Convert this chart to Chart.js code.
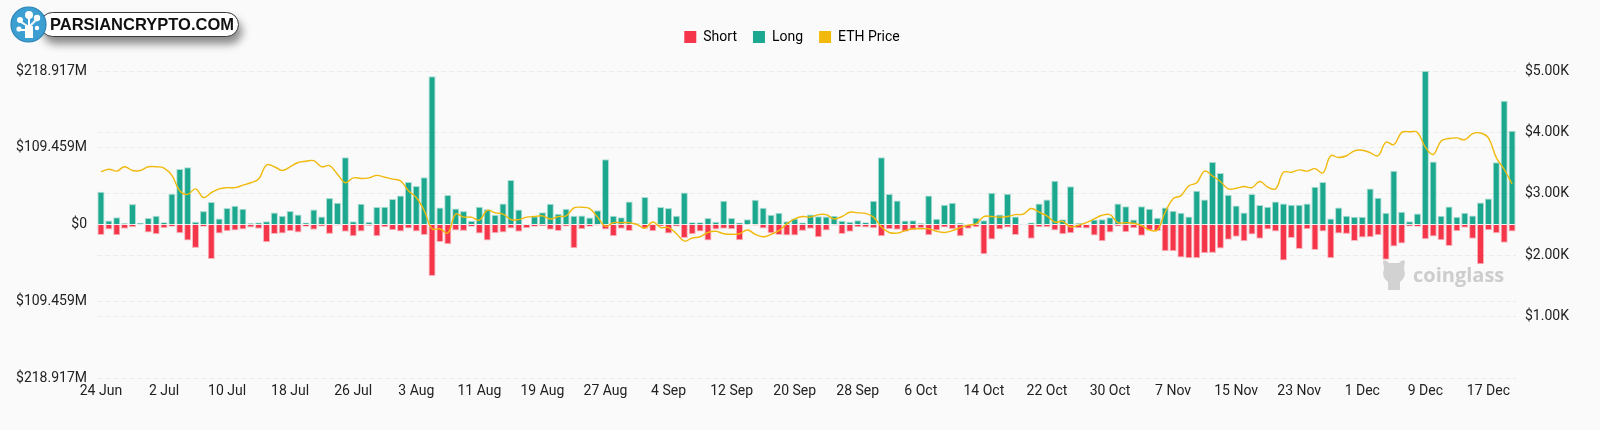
<!DOCTYPE html>
<html>
<head>
<meta charset="utf-8">
<title>ETH Liquidations</title>
<script src="https://cdn.jsdelivr.net/npm/chart.js@4.4.1/dist/chart.umd.min.js"></script>
<style>
  html, body { margin: 0; padding: 0; background: #fafafa; }
  #wrap { position: relative; width: 1600px; height: 430px; overflow: hidden; }
  #liqChart { position: absolute; left: 0; top: 0; }
  .pill {
    position: absolute; left: 40px; top: 12px; width: 199px; height: 25px;
    box-sizing: border-box; border: 1.5px solid #3a3a3a; border-radius: 13px;
    background: #fff; box-shadow: 3px 7px 8px rgba(0,0,0,0.45);
    font: bold 16.5px "Liberation Sans", Arial, sans-serif; color: #111;
    line-height: 22px; padding-left: 9px; white-space: nowrap;
  }
  .badge { position: absolute; left: 10px; top: 6px; }
  .cg { position: absolute; left: 1380px; top: 257px; display: flex; align-items: center; }
  .cg span { font: bold 20px "Open Sans", sans-serif; color: #cdcdcd; margin-left: 5px; }
</style>
</head>
<body>
<div id="wrap">
  <canvas id="liqChart" width="1600" height="430"></canvas>
  <div class="cg">
    <svg width="28" height="34" viewBox="0 0 28 34">
      <path d="M3 4 Q6 2 9 6 L19 6 Q22 2 25 4 L24 12 Q27 20 20 25 L20 33 L8 33 L8 25 Q1 20 4 12 Z" fill="#d2d2d2"/>
    </svg>
    <span>coinglass</span>
  </div>
  <div class="pill">PARSIANCRYPTO.COM</div>
  <svg class="badge" width="38" height="38" viewBox="0 0 38 38">
    <circle cx="18.5" cy="18.5" r="17.5" fill="#3c9fd2" stroke="#2b82b5" stroke-width="1.2"/>
    <rect x="15" y="20" width="8" height="12" fill="#fff"/>
    <path d="M19 21 L19 12 M19 21 L11 16 M19 21 L26 14 M17 24 L10 24" stroke="#fff" stroke-width="2" fill="none"/>
    <circle cx="19" cy="9" r="4" fill="#fff"/>
    <circle cx="10" cy="14" r="3" fill="#fff"/>
    <circle cx="27" cy="12" r="3.2" fill="#fff"/>
    <circle cx="9" cy="23" r="2.6" fill="#fff"/>
    <circle cx="27" cy="22" r="2.2" fill="#fff"/>
  </svg>
</div>
<script>
const dates = [
  '24 Jun','25 Jun','26 Jun','27 Jun','28 Jun','29 Jun','30 Jun',
  '1 Jul','2 Jul','3 Jul','4 Jul','5 Jul','6 Jul','7 Jul','8 Jul','9 Jul','10 Jul','11 Jul','12 Jul','13 Jul','14 Jul','15 Jul','16 Jul',
  '17 Jul','18 Jul','19 Jul','20 Jul','21 Jul','22 Jul','23 Jul','24 Jul','25 Jul','26 Jul','27 Jul','28 Jul','29 Jul','30 Jul','31 Jul',
  '1 Aug','2 Aug','3 Aug','4 Aug','5 Aug','6 Aug','7 Aug','8 Aug','9 Aug','10 Aug','11 Aug','12 Aug','13 Aug','14 Aug','15 Aug','16 Aug',
  '17 Aug','18 Aug','19 Aug','20 Aug','21 Aug','22 Aug','23 Aug','24 Aug','25 Aug','26 Aug','27 Aug','28 Aug','29 Aug','30 Aug','31 Aug',
  '1 Sep','2 Sep','3 Sep','4 Sep','5 Sep','6 Sep','7 Sep','8 Sep','9 Sep','10 Sep','11 Sep','12 Sep','13 Sep','14 Sep','15 Sep',
  '16 Sep','17 Sep','18 Sep','19 Sep','20 Sep','21 Sep','22 Sep','23 Sep','24 Sep','25 Sep','26 Sep','27 Sep','28 Sep','29 Sep','30 Sep',
  '1 Oct','2 Oct','3 Oct','4 Oct','5 Oct','6 Oct','7 Oct','8 Oct','9 Oct','10 Oct','11 Oct','12 Oct','13 Oct','14 Oct','15 Oct','16 Oct',
  '17 Oct','18 Oct','19 Oct','20 Oct','21 Oct','22 Oct','23 Oct','24 Oct','25 Oct','26 Oct','27 Oct','28 Oct','29 Oct','30 Oct','31 Oct',
  '1 Nov','2 Nov','3 Nov','4 Nov','5 Nov','6 Nov','7 Nov','8 Nov','9 Nov','10 Nov','11 Nov','12 Nov','13 Nov','14 Nov','15 Nov',
  '16 Nov','17 Nov','18 Nov','19 Nov','20 Nov','21 Nov','22 Nov','23 Nov','24 Nov','25 Nov','26 Nov','27 Nov','28 Nov','29 Nov','30 Nov',
  '1 Dec','2 Dec','3 Dec','4 Dec','5 Dec','6 Dec','7 Dec','8 Dec','9 Dec','10 Dec','11 Dec','12 Dec','13 Dec','14 Dec','15 Dec',
  '16 Dec','17 Dec','18 Dec','19 Dec','20 Dec'
];

// long liquidations, $M
const longLiq = [
  46.7, 5.7, 10.5, 1.9, 29.1, 2.4, 9.1, 12.4, 3.3, 43.9,
  79.2, 81.6, 3.8, 19.1, 32.0, 8.6, 23.4, 26.7, 22.4, 1.9,
  2.9, 4.8, 17.2, 12.4, 19.1, 14.3, 2.9, 21.5, 11.4, 37.7,
  31.0, 95.9, 4.8, 29.6, 3.8, 24.8, 25.3, 36.3, 41.5, 60.6,
  54.9, 67.3, 211.3, 24.3, 42.0, 22.9, 19.1, 5.2, 25.3, 21.9,
  13.8, 30.0, 63.4, 21.5, 0.5, 11.9, 17.6, 29.6, 15.3, 22.4,
  12.4, 12.9, 10.0, 20.5, 93.0, 12.4, 10.5, 32.9, 1.4, 39.1,
  0.5, 24.8, 23.4, 12.4, 45.8, 3.3, 3.3, 9.1, 3.8, 33.9,
  9.1, 2.9, 7.6, 35.3, 23.9, 13.8, 16.7, 4.8, 8.6, 2.9,
  14.3, 11.9, 11.4, 12.4, 5.2, 3.8, 6.2, 3.3, 33.9, 95.9,
  43.4, 34.3, 5.7, 6.2, 1.9, 41.5, 8.1, 28.1, 31.0, 2.4,
  0.5, 9.5, 6.2, 45.3, 14.3, 43.9, 11.4, 0.3, 2.9, 30.0,
  35.8, 62.5, 7.6, 54.4, 1.9, 1.0, 7.2, 7.6, 10.5, 30.0,
  26.2, 7.2, 26.2, 22.4, 9.5, 24.3, 19.6, 16.7, 11.4, 48.2,
  35.8, 89.2, 73.5, 42.5, 27.2, 17.2, 43.4, 27.7, 25.3, 32.9,
  30.0, 28.1, 28.1, 30.0, 53.9, 60.6, 8.6, 24.3, 12.4, 11.0,
  11.0, 51.5, 38.2, 16.7, 76.8, 18.1, 4.8, 15.7, 218.9, 89.7,
  12.4, 25.8, 11.0, 16.7, 12.9, 31.5, 37.2, 88.7, 176.5, 133.6
];

// short liquidations, $M (drawn below zero)
const shortLiq = [
  14.8, 7.2, 15.3, 6.2, 3.8, 1.0, 11.4, 13.8, 5.2, 3.3,
  12.4, 22.9, 33.4, 3.3, 49.1, 12.9, 9.5, 8.6, 7.2, 4.3,
  6.2, 25.3, 13.4, 12.9, 9.5, 11.4, 3.3, 7.6, 2.9, 13.4,
  1.4, 10.5, 16.7, 10.0, 1.9, 16.7, 3.8, 8.1, 10.0, 5.7,
  10.0, 14.8, 73.5, 24.8, 28.1, 8.6, 9.1, 3.3, 12.9, 22.9,
  12.4, 11.4, 5.7, 10.5, 5.2, 3.3, 2.4, 7.6, 9.1, 2.9,
  33.9, 6.7, 3.3, 1.4, 7.2, 16.7, 6.2, 9.1, 0.5, 6.2,
  9.5, 2.9, 12.9, 2.9, 19.1, 13.8, 10.0, 22.9, 7.2, 6.2,
  6.7, 22.4, 0.3, 1.4, 5.7, 12.4, 14.8, 15.7, 15.7, 9.1,
  6.2, 18.1, 8.6, 1.4, 13.4, 10.5, 3.8, 4.3, 5.2, 16.7,
  6.7, 7.6, 10.5, 8.1, 5.2, 15.3, 8.6, 4.3, 6.7, 16.7,
  6.2, 3.8, 42.5, 21.5, 7.2, 4.3, 14.8, 1.0, 20.5, 3.8,
  3.8, 8.6, 13.8, 12.4, 5.2, 5.7, 15.7, 23.9, 11.4, 2.9,
  11.0, 5.2, 16.2, 8.6, 9.1, 38.2, 38.2, 47.2, 48.2, 48.2,
  41.0, 40.5, 34.3, 21.9, 17.6, 23.9, 14.3, 20.5, 7.2, 10.0,
  51.5, 19.1, 34.8, 6.7, 36.3, 10.0, 48.2, 12.9, 13.4, 23.4,
  18.6, 18.1, 15.3, 50.1, 31.5, 27.2, 2.9, 3.3, 21.0, 17.2,
  22.4, 30.5, 9.5, 4.8, 20.5, 56.8, 8.1, 12.4, 26.2, 10.0
];

// ETH price, USD
const ethPrice = [
  3360, 3400, 3370, 3440, 3380, 3380, 3440, 3440, 3420, 3300,
  3050, 2990, 3080, 2940, 3020, 3080, 3100, 3100, 3140, 3180,
  3240, 3470, 3440, 3380, 3440, 3510, 3530, 3540, 3440, 3460,
  3320, 3180, 3260, 3250, 3260, 3300, 3270, 3240, 3210, 3050,
  2940, 2730, 2430, 2430, 2360, 2670, 2620, 2620, 2570, 2730,
  2690, 2670, 2580, 2580, 2620, 2630, 2640, 2590, 2630, 2640,
  2770, 2780, 2760, 2620, 2470, 2530, 2530, 2530, 2500, 2440,
  2540, 2450, 2450, 2350, 2230, 2280, 2300, 2370, 2390, 2350,
  2340, 2350, 2410, 2340, 2300, 2340, 2400, 2510, 2590, 2630,
  2620, 2660, 2660, 2590, 2630, 2700, 2690, 2680, 2620, 2460,
  2370, 2360, 2400, 2430, 2430, 2430, 2390, 2370, 2400, 2450,
  2490, 2510, 2630, 2630, 2620, 2630, 2660, 2670, 2760, 2700,
  2640, 2540, 2550, 2460, 2490, 2530, 2590, 2650, 2660, 2530,
  2530, 2520, 2480, 2410, 2410, 2700, 2920, 2970, 3130, 3180,
  3370, 3290, 3200, 3080, 3090, 3120, 3100, 3200, 3110, 3080,
  3350, 3350, 3390, 3370, 3410, 3340, 3620, 3590, 3620, 3700,
  3710, 3670, 3620, 3840, 3800, 4000, 4010, 4000, 3760, 3640,
  3860, 3900, 3910, 3880, 3980, 3990, 3910, 3590, 3400, 3160
];

const leftTicks = [-218.917, -109.459, 0, 109.459, 218.917];
const rightTicks = [0, 1000, 2000, 3000, 4000, 5000];

const SHORT_COLOR = '#f5364a';
const LONG_COLOR = '#1ca88e';
const ETH_COLOR = '#f0b90b';
const GRID_COLOR = '#ebebeb';

Chart.defaults.font.family = 'Roboto, sans-serif';
Chart.defaults.font.size = 14;

// fix legend height so the plot area starts where the original does,
// and nudge it a little left like the original
const legendHeight = {
  id: 'legendHeight',
  beforeInit(chart) {
    const fit = chart.legend.fit;
    chart.legend.fit = function () {
      fit.call(this);
      this.height = 57;
    };
  },
  afterLayout(chart) {
    chart.legend.left -= 8;
    chart.legend.right -= 8;
  }
};

function createLiquidationChart() {
  const ctx = document.getElementById('liqChart').getContext('2d');
  const legendColors = [SHORT_COLOR, LONG_COLOR, ETH_COLOR];

  new Chart(ctx, {
    type: 'bar',
    data: {
      labels: dates,
      datasets: [{
        label: 'Short',
        data: shortLiq.map(v => -v),
        backgroundColor: SHORT_COLOR,
        borderColor: 'rgba(245,54,74,0.35)',
        borderWidth: 1,
        yAxisID: 'y',
        order: 1
      }, {
        label: 'Long',
        data: longLiq,
        backgroundColor: LONG_COLOR,
        borderColor: 'rgba(28,168,142,0.35)',
        borderWidth: 1,
        yAxisID: 'y',
        order: 1
      }, {
        type: 'line',
        label: 'ETH Price',
        data: ethPrice,
        borderColor: ETH_COLOR,
        backgroundColor: ETH_COLOR,
        borderWidth: 1.4,
        pointRadius: 0,
        tension: 0.4,
        yAxisID: 'y1',
        order: 0
      }]
    },
    options: {
      responsive: false,
      animation: false,
      devicePixelRatio: 1,
      categoryPercentage: 1,
      barPercentage: 0.9,
      layout: { padding: { top: 14, left: 0, right: 0, bottom: 0 } },
      plugins: {
        legend: {
          position: 'top',
          labels: {
            boxWidth: 12,
            boxHeight: 12,
            padding: 16,
            color: '#333',
            font: { size: 14 },
            generateLabels: function (chart) {
              return chart.data.datasets.map((ds, i) => ({
                text: ds.label,
                fillStyle: legendColors[i],
                strokeStyle: legendColors[i],
                lineWidth: 0,
                hidden: false,
                datasetIndex: i
              }));
            }
          }
        },
        tooltip: { enabled: false }
      },
      scales: {
        x: {
          stacked: true,
          grid: { display: false, drawTicks: false },
          border: { display: false },
          ticks: {
            autoSkip: false,
            maxRotation: 0,
            padding: 5,
            color: '#222',
            callback: function (val, idx) {
              return idx % 8 === 0 ? dates[idx] : '';
            }
          },
          afterFit: function (scale) { scale.height = 52; }
        },
        y: {
          stacked: true,
          position: 'left',
          min: -218.917,
          max: 218.917,
          grid: { color: GRID_COLOR, drawTicks: false },
          border: { display: false, dash: [5, 3] },
          afterBuildTicks: function (scale) {
            scale.ticks = leftTicks.map(v => ({ value: v }));
          },
          ticks: {
            padding: 10,
            color: '#222',
            callback: function (v) {
              return v === 0 ? '$0' : '$' + Math.abs(v).toFixed(3) + 'M';
            }
          },
          afterFit: function (scale) { scale.width = 97; }
        },
        y1: {
          position: 'right',
          min: 0,
          max: 5000,
          grid: { color: GRID_COLOR, drawTicks: false },
          border: { display: false, dash: [5, 3] },
          afterBuildTicks: function (scale) {
            scale.ticks = rightTicks.map(v => ({ value: v }));
          },
          ticks: {
            padding: 9,
            color: '#222',
            callback: function (v) {
              return v === 0 ? '' : '$' + (v / 1000).toFixed(2) + 'K';
            }
          },
          afterFit: function (scale) { scale.width = 84; }
        }
      }
    },
    plugins: [legendHeight]
  });
}

createLiquidationChart();
</script>
</body>
</html>
